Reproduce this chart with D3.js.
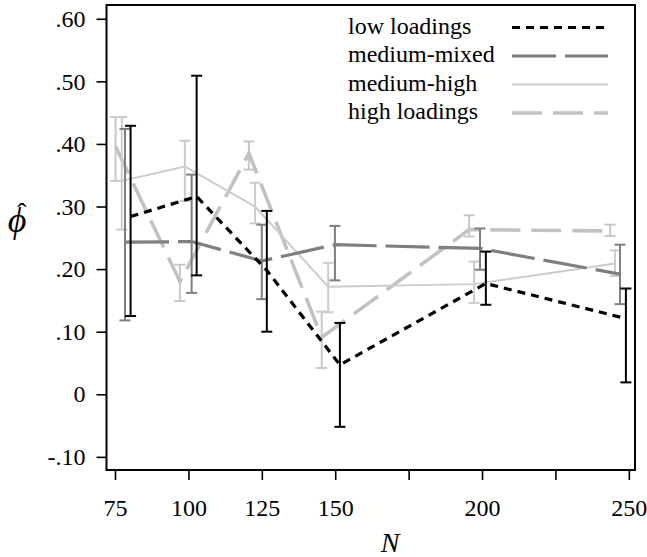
<!DOCTYPE html>
<html>
<head>
<meta charset="utf-8">
<script src="https://cdn.jsdelivr.net/npm/d3@7"></script>
<style>
  body { margin: 0; background: #fff; }
  svg text { font-family: "Liberation Serif", "DejaVu Serif", serif; }
</style>
</head>
<body>
<svg id="chart" width="647" height="557"></svg>
<script>
//Series names, in the order of the legend
var seriesNames = ["low loadings", "medium-mixed", "medium-high", "high loadings"];

//x positions (N, slightly shifted per series), means and error bar ends
var lowX = [80.3, 102.8, 126.7, 151.6, 201.3, 249.0];
var lowMean = [0.284, 0.316, 0.198, 0.047, 0.177, 0.121];
var lowLo = [0.125, 0.190, 0.100, -0.052, 0.143, 0.019];
var lowHi = [0.429, 0.509, 0.293, 0.114, 0.228, 0.169];

var mixedX = [78.4, 101.1, 125.0, 149.9, 199.3, 247.0];
var mixedMean = [0.243, 0.244, 0.213, 0.239, 0.233, 0.192];
var mixedLo = [0.118, 0.162, 0.152, 0.182, 0.199, 0.144];
var mixedHi = [0.424, 0.351, 0.271, 0.269, 0.265, 0.239];

var medHighX = [77.3, 98.8, 122.7, 147.6, 197.3, 245.3];
var medHighMean = [0.341, 0.364, 0.300, 0.172, 0.176, 0.209];
var medHighLo = [0.263, 0.309, 0.273, 0.131, 0.146, 0.189];
var medHighHi = [0.443, 0.405, 0.338, 0.210, 0.212, 0.230];

var highX = [75.2, 97.1, 120.6, 145.4, 195.6, 243.6];
var highMean = [0.396, 0.180, 0.385, 0.091, 0.263, 0.261];
var highLo = [0.341, 0.149, 0.359, 0.042, 0.252, 0.253];
var highHi = [0.443, 0.207, 0.404, 0.132, 0.286, 0.271];

//Tick values
var xTicks = [75, 100, 125, 150, 175, 200, 225, 250];
var xTickLabels = [75, 100, 125, 150, 200, 250];
var yTicks = [-0.1, 0, 0.1, 0.2, 0.3, 0.4, 0.5, 0.6];

//Build one table per series
function makeRows(xs, mean, lo, hi) {
  return xs.map(function (x, i) { return { x: x, mean: mean[i], lo: lo[i], hi: hi[i] }; });
}
var table = {
  "low loadings": makeRows(lowX, lowMean, lowLo, lowHi),
  "medium-mixed": makeRows(mixedX, mixedMean, mixedLo, mixedHi),
  "medium-high": makeRows(medHighX, medHighMean, medHighLo, medHighHi),
  "high loadings": makeRows(highX, highMean, highLo, highHi)
};

//Line styles
var styles = {
  "low loadings":  { color: "#000000", width: 3.2, dash: "8,6",   bar: "#000000" },
  "medium-mixed":  { color: "#7f7f7f", width: 3.2, dash: "44,9",  bar: "#7f7f7f" },
  "medium-high":   { color: "#cccccc", width: 2,   dash: null,    bar: "#cccccc" },
  "high loadings": { color: "#c2c2c2", width: 3.6, dash: "30,11", bar: "#c8c8c8" }
};

var svg = d3.select("svg#chart");
var plotLeft = 106.5, plotRight = 635, plotTop = 5, plotBottom = 470;

var x = d3.scaleLinear().domain([72.1, 252.1]).range([plotLeft, plotRight]);
var y = d3.scaleLinear().domain([-0.121, 0.622]).range([plotBottom, plotTop]);

function yFormat(d) {
  if (Math.abs(d) < 1e-9) return "0";
  return (d < 0 ? "-" : "") + d3.format(".2f")(Math.abs(d)).replace(/^0/, "");
}

//Axes
var yAxis = svg.append("g")
    .attr("transform", "translate(" + plotLeft + ",0)")
    .call(d3.axisLeft(y).tickValues(yTicks).tickSize(10).tickPadding(11).tickFormat(yFormat));
var xAxis = svg.append("g")
    .attr("transform", "translate(0," + plotBottom + ")")
    .call(d3.axisBottom(x).tickValues(xTicks).tickSize(10).tickPadding(19)
      .tickFormat(function (d) { return xTickLabels.indexOf(d) >= 0 ? d : ""; }));
[xAxis, yAxis].forEach(function (g) {
  g.select(".domain").remove();
  g.selectAll(".tick line").attr("stroke", "#000").attr("stroke-width", 1.6);
  g.selectAll(".tick text").attr("fill", "#000").style("font-size", "24px")
    .style("font-family", "'Liberation Serif', 'DejaVu Serif', serif");
});

//Lines and error bars, black drawn last
var line = d3.line()
  .x(function (d) { return x(d.x); })
  .y(function (d) { return y(d.mean); });

seriesNames.slice().reverse().forEach(function (name) {
  var st = styles[name];
  var g = svg.append("g");
  var bars = g.selectAll(".bar").data(table[name]).enter().append("g").attr("class", "bar")
      .attr("stroke", st.bar).attr("stroke-width", 2).attr("fill", "none");
  bars.append("line")
      .attr("x1", function (d) { return x(d.x); }).attr("x2", function (d) { return x(d.x); })
      .attr("y1", function (d) { return y(d.lo); }).attr("y2", function (d) { return y(d.hi); });
  bars.append("line")
      .attr("x1", function (d) { return x(d.x) - 5.5; }).attr("x2", function (d) { return x(d.x) + 5.5; })
      .attr("y1", function (d) { return y(d.lo); }).attr("y2", function (d) { return y(d.lo); });
  bars.append("line")
      .attr("x1", function (d) { return x(d.x) - 5.5; }).attr("x2", function (d) { return x(d.x) + 5.5; })
      .attr("y1", function (d) { return y(d.hi); }).attr("y2", function (d) { return y(d.hi); });
  g.append("path")
      .datum(table[name])
      .attr("d", line)
      .attr("fill", "none")
      .attr("stroke", st.color)
      .attr("stroke-width", st.width)
      .attr("stroke-dasharray", st.dash);
});

//Plot frame
svg.append("rect")
    .attr("x", plotLeft).attr("y", plotTop)
    .attr("width", plotRight - plotLeft).attr("height", plotBottom - plotTop)
    .attr("fill", "none").attr("stroke", "#000").attr("stroke-width", 2);

//Legend
var legend = svg.append("g").attr("transform", "translate(348,0)");
seriesNames.forEach(function (name, i) {
  var st = styles[name];
  var base = 33.5 + i * 28.5;
  legend.append("text")
      .attr("x", 0).attr("y", base)
      .style("font-size", "24px")
      .text(name);
  legend.append("line")
      .attr("x1", 164).attr("x2", 260)
      .attr("y1", base - 6).attr("y2", base - 6)
      .attr("stroke", st.color)
      .attr("stroke-width", st.width)
      .attr("stroke-dasharray", st.dash);
});

//Axis titles
svg.append("text")
    .attr("x", 390).attr("y", 552)
    .attr("text-anchor", "middle")
    .style("font-size", "28px").style("font-style", "italic")
    .text("N");
var yTitle = svg.append("g");
yTitle.append("text")
    .attr("x", 17).attr("y", 232)
    .attr("text-anchor", "middle")
    .style("font-size", "36px").style("font-style", "italic")
    .text("\u03d5");
yTitle.append("text")
    .attr("x", 22).attr("y", 222)
    .attr("text-anchor", "middle")
    .style("font-size", "28px")
    .text("\u02c6");
</script>
</body>
</html>
